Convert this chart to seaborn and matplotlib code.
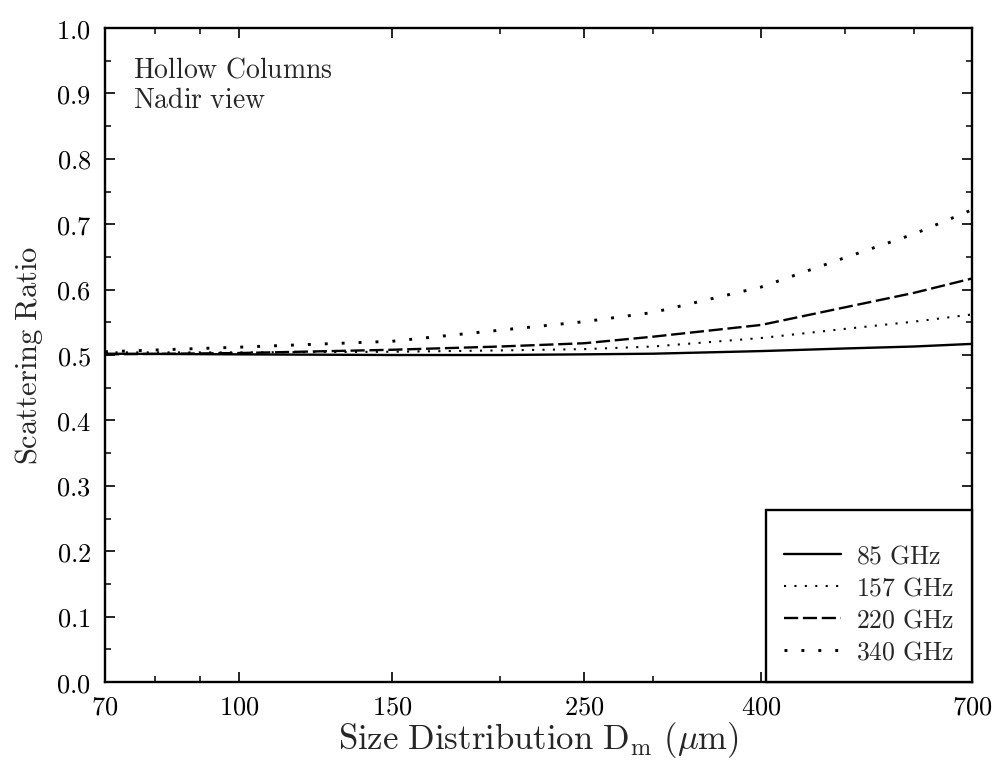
import matplotlib
matplotlib.use("Agg")
import matplotlib.pyplot as plt
import seaborn as sns
import numpy as np
import pandas as pd
from matplotlib.ticker import FixedLocator, FixedFormatter, NullFormatter, LogLocator, MultipleLocator

# Data
dm = [70, 100, 150, 200, 250, 300, 400, 500, 600, 700]
r85 = [0.502, 0.501, 0.500, 0.500, 0.501, 0.502, 0.506, 0.510, 0.513, 0.517]
r157 = [0.504, 0.504, 0.505, 0.507, 0.509, 0.513, 0.526, 0.540, 0.551, 0.562]
r220 = [0.501, 0.503, 0.508, 0.513, 0.518, 0.528, 0.546, 0.573, 0.595, 0.617]
r340 = [0.505, 0.512, 0.521, 0.538, 0.551, 0.565, 0.604, 0.649, 0.685, 0.722]
labels = ["85 GHz", "157 GHz", "220 GHz", "340 GHz"]
xticks = [70, 100, 150, 250, 400, 700]
yticks = [0.0, 0.1, 0.2, 0.3, 0.4, 0.5, 0.6, 0.7, 0.8, 0.9, 1.0]

sns.set_theme(style="ticks")
plt.rcParams["mathtext.fontset"] = "cm"
plt.rcParams["font.family"] = ["DejaVu Serif"]

fig = plt.figure(figsize=(10.01, 7.61), dpi=100)
ax = fig.add_axes([0.1049, 0.1038, 0.8661, 0.8594])

series = [r85, r157, r220, r340]
styles = [
    dict(linestyle="-", linewidth=1.7),
    dict(linestyle=(0, (1.0, 4.0)), linewidth=1.5),
    dict(linestyle=(0, (6, 2)), linewidth=1.7),
    dict(linestyle=(0, (1.0, 4.8)), linewidth=2.1),
]
for vals, lab, st in zip(series, labels, styles):
    sns.lineplot(x=dm, y=vals, ax=ax, color="black",
                 label=r"$\mathrm{" + lab.replace(" ", r"\ ") + "}$", **st)

ax.set_xscale("log")
ax.set_xlim(70, 700)
ax.set_ylim(0, 1.0)
ax.xaxis.set_major_locator(FixedLocator(xticks))
ax.xaxis.set_major_formatter(FixedFormatter([r"$\mathrm{%d}$" % t for t in xticks]))
ax.xaxis.set_minor_locator(LogLocator(base=10, subs=np.arange(2, 10)))
ax.xaxis.set_minor_formatter(NullFormatter())
ax.yaxis.set_major_locator(FixedLocator(yticks))
ax.yaxis.set_major_formatter(FixedFormatter([r"$\mathrm{%.1f}$" % t for t in yticks]))
ax.yaxis.set_minor_locator(MultipleLocator(0.05))

ax.tick_params(which="both", direction="in", top=True, right=True, colors="black")
ax.tick_params(which="major", length=7, width=1.2, labelsize=19)
ax.tick_params(which="minor", length=4, width=1.1)
ax.tick_params(axis="x", which="major", pad=9)
ax.tick_params(axis="y", which="major", pad=10)
for s in ax.spines.values():
    s.set_color("black")
    s.set_linewidth(1.7)

ax.set_xlabel(r"$\mathrm{Size\ Distribution\ D_m\ (\mu m)}$", fontsize=25, labelpad=0)
ax.set_ylabel(r"$\mathrm{Scattering\ Ratio}$", fontsize=22, labelpad=8)

ax.text(0.032, 0.925, r"$\mathrm{Hollow\ Columns}$", transform=ax.transAxes, fontsize=20,
        va="baseline", ha="left")
ax.text(0.032, 0.877, r"$\mathrm{Nadir\ view}$", transform=ax.transAxes, fontsize=20,
        va="baseline", ha="left")

leg = ax.legend(loc="lower right", fontsize=18.5, frameon=True, fancybox=False, edgecolor="black",
                borderaxespad=0, handlelength=2.2, handletextpad=0.6, labelspacing=0.27,
                borderpad=0.7, title=" ", title_fontsize=6)
leg.get_frame().set_linewidth(1.7)
leg.get_frame().set_alpha(1)

fig.savefig("out.png", dpi=100, facecolor="white")
